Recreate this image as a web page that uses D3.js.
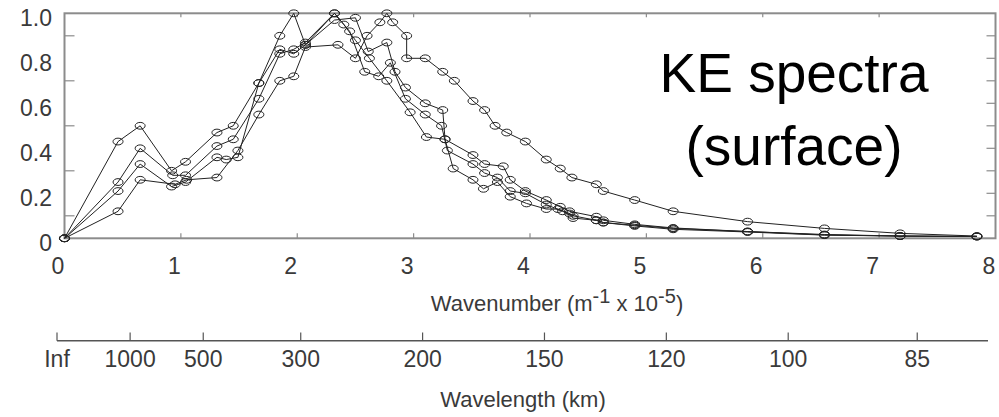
<!DOCTYPE html>
<html><head><meta charset="utf-8">
<script src="https://cdn.jsdelivr.net/npm/d3@7"></script>
<style>
html,body{margin:0;padding:0;background:#fff;}
svg{display:block;}
text{font-family:"Liberation Sans",Arial,Helvetica,sans-serif;}
</style></head>
<body>
<svg id="c" width="999" height="417"></svg>
<script>
// ---- data (wavenumber k in 1e-5 m^-1, normalized KE) ----
const seriesA = [[0,0],[0.46,0.12],[0.65,0.26],[0.95,0.24],[1.05,0.26],[1.31,0.27],[1.49,0.39],[1.67,0.55],[1.85,0.70],[1.97,0.72],[2.07,0.85],[2.35,0.86],[2.50,0.80],[2.60,0.90],[2.71,0.96],[2.77,1.0],[2.82,0.96],[2.94,0.90],[2.94,0.80],[3.10,0.80],[3.25,0.74],[3.35,0.70],[3.51,0.61],[3.61,0.57],[3.70,0.50],[3.80,0.47],[3.96,0.43],[4.14,0.35],[4.26,0.31],[4.36,0.27],[4.57,0.24],[4.63,0.21],[4.90,0.17],[5.23,0.12],[5.87,0.074],[6.53,0.044],[7.18,0.022],[7.84,0.01]];
const seriesB = [[0,0],[0.46,0.43],[0.65,0.50],[0.92,0.30],[1.04,0.34],[1.31,0.47],[1.45,0.50],[1.67,0.69],[1.85,0.90],[1.97,1.0],[2.07,0.86],[2.32,0.97],[2.50,0.98],[2.61,0.83],[2.77,0.87],[2.84,0.74],[2.93,0.67],[3.10,0.60],[3.25,0.57],[3.27,0.44],[3.51,0.37],[3.61,0.33],[3.77,0.32],[3.83,0.26],[3.96,0.21],[4.14,0.17],[4.26,0.14],[4.34,0.12],[4.57,0.096],[4.63,0.08],[4.90,0.062],[5.23,0.046],[5.87,0.03],[6.53,0.017],[7.18,0.01],[7.84,0.008]];
const seriesC = [[0,0],[0.46,0.25],[0.65,0.40],[0.93,0.28],[1.04,0.28],[1.31,0.41],[1.45,0.44],[1.67,0.62],[1.85,0.82],[1.97,0.84],[2.07,0.87],[2.32,1.0],[2.45,0.92],[2.58,0.74],[2.70,0.72],[2.80,0.78],[2.93,0.62],[3.10,0.55],[3.24,0.50],[3.29,0.39],[3.51,0.33],[3.61,0.29],[3.72,0.27],[3.83,0.21],[3.96,0.20],[4.14,0.15],[4.28,0.12],[4.37,0.10],[4.57,0.08],[4.63,0.07],[4.90,0.058],[5.23,0.044],[5.87,0.03],[6.53,0.015],[7.18,0.01],[7.84,0.008]];
const seriesD = [[0,0],[0.46,0.21],[0.65,0.33],[0.92,0.23],[1.04,0.25],[1.31,0.36],[1.39,0.35],[1.49,0.36],[1.67,0.69],[1.85,0.84],[1.97,0.82],[2.07,0.86],[2.32,1.0],[2.40,0.95],[2.50,0.88],[2.62,0.80],[2.77,0.70],[2.97,0.56],[3.11,0.45],[3.27,0.44],[3.34,0.31],[3.51,0.26],[3.60,0.22],[3.72,0.25],[3.83,0.185],[3.97,0.155],[4.14,0.13],[4.24,0.13],[4.34,0.11],[4.37,0.09],[4.57,0.08],[4.63,0.07],[4.90,0.055],[5.23,0.04],[5.87,0.028],[6.53,0.014],[7.18,0.01],[7.84,0.008]];
const allSeries = [seriesA, seriesB, seriesC, seriesD];

const kTicks = [0,1,2,3,4,5,6,7,8];
const vTicks = [0,0.2,0.4,0.6,0.8,1.0];
const vTickLabels = ["0","0.2","0.4","0.6","0.8","1.0"];
const vMinorLeft = [0.1,0.3,0.5,0.7,0.9];
const vMinorRight = [0.1,0.2,0.3,0.4,0.5,0.6,0.7,0.8,0.9];
const wavelengthKm = [Infinity,1000,500,300,200,150,120,100,85];
const wavelengthLabels = ["Inf","1000","500","300","200","150","120","100","85"];
const titleLines = ["KE spectra","(surface)"];

// ---- layout ----
const svg = d3.select("#c");
const X0 = 64.5, X1 = 995.5, Y0 = 238.3, Y1 = 13.3;
const x = d3.scaleLinear().domain([0,8]).range([X0, X1]);
const y = d3.scaleLinear().domain([0,1]).range([Y0, Y1]);
const xLow = d3.scaleLinear().domain([0,8]).range([57, 988]);
const toK = lam => isFinite(lam) ? 200*Math.PI/lam : 0;

const frameCol = "#8c8c8c";
const txtCol = "#3a3a3a";

// frame
svg.append("rect").attr("x",X0).attr("y",Y1).attr("width",X1-X0).attr("height",Y0-Y1)
  .attr("fill","none").attr("stroke",frameCol).attr("stroke-width",2);

// ticks
const gt = svg.append("g").attr("stroke",frameCol).attr("stroke-width",1.2);
kTicks.filter(k=>k>0&&k<8).forEach(k=>{
  gt.append("line").attr("x1",x(k)).attr("x2",x(k)).attr("y1",Y0).attr("y2",Y0-5);
  gt.append("line").attr("x1",x(k)).attr("x2",x(k)).attr("y1",Y1).attr("y2",Y1+4);
});
vMinorLeft.forEach(v=>{
  gt.append("line").attr("x1",X0).attr("x2",X0+10).attr("y1",y(v)).attr("y2",y(v));
});
vMinorRight.forEach(v=>{
  gt.append("line").attr("x1",X1).attr("x2",X1-9).attr("y1",y(v)).attr("y2",y(v));
});

// y tick labels
svg.append("g").selectAll("text").data(vTicks).join("text")
  .attr("x",52).attr("y",d=>y(d)+13).attr("text-anchor","end")
  .attr("font-size",23).attr("fill",txtCol).text((d,i)=>vTickLabels[i]);

// x tick labels
svg.append("g").selectAll("text").data(kTicks).join("text")
  .attr("x",d=>x(d)-6.5).attr("y",274).attr("text-anchor","middle")
  .attr("font-size",23).attr("fill",txtCol).text(d=>d);

// x axis title with superscripts
const t1 = svg.append("text").attr("x",557).attr("y",311).attr("text-anchor","middle")
  .attr("font-size",22).attr("fill",txtCol);
t1.append("tspan").text("Wavenumber (m");
t1.append("tspan").attr("dy",-8).attr("font-size",20).text("-1");
t1.append("tspan").attr("dy",8).text(" x 10");
t1.append("tspan").attr("dy",-8).attr("font-size",20).text("-5");
t1.append("tspan").attr("dy",8).text(")");

// lower wavelength axis
const gl = svg.append("g").attr("stroke","#555").attr("stroke-width",1.5);
gl.append("line").attr("x1",xLow(0)).attr("x2",xLow(8)).attr("y1",340.7).attr("y2",340.7);
wavelengthKm.forEach(l=>{
  gl.append("line").attr("x1",xLow(toK(l))).attr("x2",xLow(toK(l))).attr("y1",340.7).attr("y2",332.5).attr("stroke-width",1.2);
});
svg.append("g").selectAll("text").data(wavelengthKm).join("text")
  .attr("x",d=>xLow(toK(d))).attr("y",367).attr("text-anchor","middle")
  .attr("font-size",23).attr("fill",txtCol).text((d,i)=>wavelengthLabels[i]);
svg.append("text").attr("x",523).attr("y",407).attr("text-anchor","middle")
  .attr("font-size",22).attr("fill",txtCol).text("Wavelength (km)");

// data lines
const line = d3.line().x(d=>x(d[0])).y(d=>y(d[1]));
const gd = svg.append("g");
allSeries.forEach(s=>{
  gd.append("path").attr("d",line(s)).attr("fill","none").attr("stroke","#222").attr("stroke-width",1);
});
allSeries.forEach(s=>{
  gd.append("g").selectAll("ellipse").data(s).join("ellipse")
    .attr("cx",d=>x(d[0])).attr("cy",d=>y(d[1])).attr("rx",5).attr("ry",3.4)
    .attr("fill","none").attr("stroke","#222").attr("stroke-width",1);
});

// title
svg.append("g").selectAll("text").data(titleLines).join("text")
  .attr("x",794).attr("y",(d,i)=>92+i*73).attr("text-anchor","middle")
  .attr("font-family","'Open Sans','Noto Sans',sans-serif").attr("font-size",55)
  .attr("fill","#000").text(d=>d);
</script>
</body></html>
